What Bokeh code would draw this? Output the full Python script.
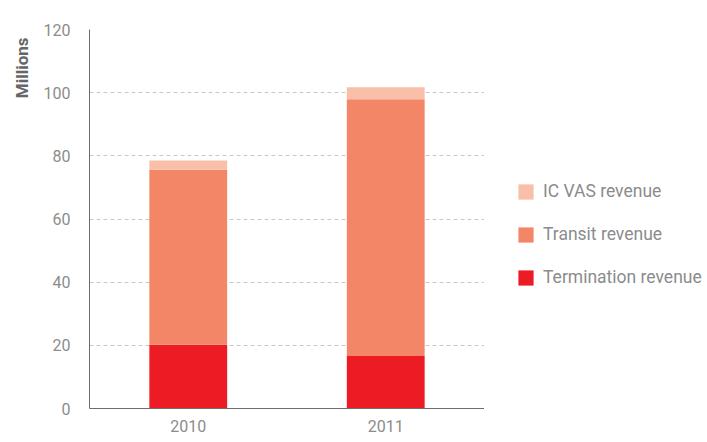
from bokeh.plotting import figure
from bokeh.layouts import row
from bokeh.models import (FactorRange, Range1d, FixedTicker, Legend, LegendItem, Title)
from bokeh.embed import file_html
from bokeh.resources import INLINE

years = ["2010", "2011"]
termination = [20.2, 16.6]
transit = [55.4, 81.3]
ic_vas = [2.9, 3.8]
y_ticks = [0, 20, 40, 60, 80, 100, 120]

stack_names = ["termination", "transit", "ic_vas"]
series_labels = ["Termination revenue", "Transit revenue", "IC VAS revenue"]
colors = ["#ED1C24", "#F48668", "#F9BFA8"]

data = dict(years=years, termination=termination, transit=transit, ic_vas=ic_vas)

p = figure(width=484, height=442, output_backend="svg", toolbar_location=None,
           x_range=FactorRange(factors=years, range_padding=0),
           y_range=Range1d(0, 120))

renderers = p.vbar_stack(stack_names, x="years", width=0.394, color=colors,
                         line_color=None, source=data)

p.outline_line_color = None
p.min_border_top = 29
p.min_border_bottom = 34
p.min_border_left = 89
p.min_border_right = 0

# axes
p.yaxis.ticker = FixedTicker(ticks=y_ticks)
p.yaxis.major_tick_line_color = None
p.yaxis.major_tick_out = 0
p.yaxis.minor_tick_line_color = None
p.yaxis.minor_tick_out = 0
p.yaxis.axis_line_color = "#6e6e6e"
p.yaxis.major_label_standoff = 19
p.yaxis.major_label_text_font = "Roboto"
p.yaxis.major_label_text_font_size = "16px"
p.yaxis.major_label_text_color = "#8c8c8c"

p.xaxis.major_tick_line_color = None
p.xaxis.major_tick_out = 0
p.xaxis.minor_tick_line_color = None
p.xaxis.axis_line_color = "#6e6e6e"
p.xaxis.major_label_standoff = 11
p.xaxis.major_label_text_font = "Roboto"
p.xaxis.major_label_text_font_size = "16px"
p.xaxis.major_label_text_color = "#8c8c8c"

p.xgrid.grid_line_color = None
p.ygrid.grid_line_color = "#c8c8c8"
p.ygrid.grid_line_dash = "4 3"
p.ygrid.grid_line_width = 1

p.add_layout(Title(text="Millions", align="right", offset=8, standoff=18,
                   text_font="Roboto", text_font_size="17px", text_font_style="bold",
                   text_color="#666666"), "left")

# legend panel (same stacked data; its renderers are hidden, only legend swatches show)
lp = figure(width=223, height=442, output_backend="svg", toolbar_location=None,
            x_range=FactorRange(factors=years), y_range=Range1d(0, 120))
lp.axis.visible = False
lp.grid.visible = False
lp.outline_line_color = None
lp.min_border = 0
legend_renderers = lp.vbar_stack(stack_names, x="years", width=0.394, color=colors,
                                 line_color=None, source=data)
for r in legend_renderers:
    r.visible = False

items = [LegendItem(label=series_labels[i], renderers=[legend_renderers[i]]) for i in [2, 1, 0]]
legend = Legend(items=items, location=(32, 121), margin=0, padding=0,
                glyph_width=19, glyph_height=19, label_height=19, spacing=23,
                label_standoff=8, label_text_font="Roboto", label_text_font_size="17.5px",
                label_text_color="#8c8c8c", border_line_color=None,
                background_fill_alpha=0, click_policy="none")
lp.add_layout(legend, "center")

layout = row(p, lp)
open("out.html", "w").write(file_html(layout, INLINE))
